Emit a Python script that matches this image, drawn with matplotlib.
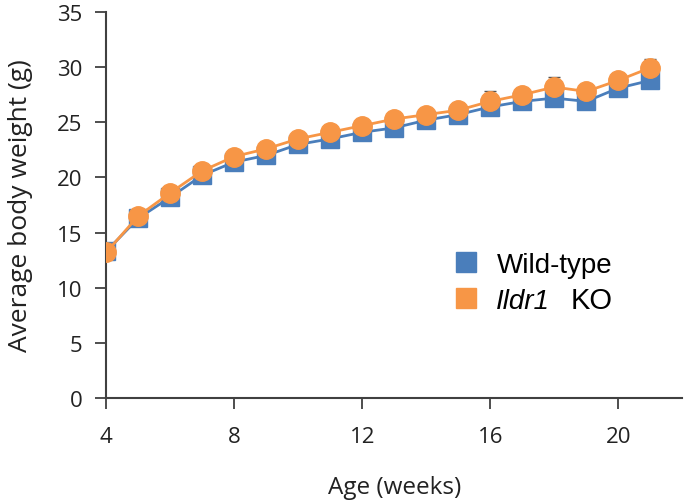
import numpy as np
import matplotlib.pyplot as plt
from matplotlib.lines import Line2D

weeks = [4, 5, 6, 7, 8, 9, 10, 11, 12, 13, 14, 15, 16, 17, 18, 19, 20, 21]
wild_type = [13.3, 16.3, 18.2, 20.2, 21.4, 22.0, 23.0, 23.5, 24.1, 24.5, 25.2,
             25.7, 26.4, 26.9, 27.2, 26.9, 28.1, 28.8]
ko = [13.2, 16.5, 18.6, 20.6, 21.9, 22.6, 23.5, 24.1, 24.7, 25.3, 25.7,
      26.1, 26.9, 27.5, 28.2, 27.8, 28.8, 29.95]
ko_err = [0.3, 0.3, 0.3, 0.3, 0.3, 0.3, 0.3, 0.3, 0.3, 0.3, 0.4,
          0.4, 0.9, 0.5, 0.9, 0.5, 0.6, 0.8]

blue = "#4a7ebb"
orange = "#f79646"

plt.rcParams["font.family"] = ["Open Sans", "DejaVu Sans"]

fig = plt.figure(figsize=(6.85, 5.02), dpi=100)
ax = fig.add_axes([0.155, 0.205, 0.841, 0.769])

ax.plot(weeks, wild_type, color=blue, lw=2, marker="s", ms=12.5,
        mec=blue, mfc=blue, zorder=3)
ax.errorbar(weeks, ko, yerr=[np.zeros(len(ko)), ko_err], fmt="none",
            ecolor="#555555", elinewidth=1, capsize=4, zorder=2)
ax.plot(weeks, ko, color=orange, lw=2, marker="o", ms=14,
        mec=orange, mfc=orange, zorder=4)

ax.set_xlim(4, 22)
ax.set_ylim(0, 35)
ax.set_xticks([4, 8, 12, 16, 20])
ax.set_yticks(range(0, 36, 5))
for s in ["top", "right"]:
    ax.spines[s].set_visible(False)
for s in ["left", "bottom"]:
    ax.spines[s].set_color("#404040")
    ax.spines[s].set_linewidth(1.5)
ax.tick_params(direction="out", length=8, width=1.3, color="#404040",
               labelsize=16, labelcolor="#222222")
ax.tick_params(axis="x", pad=12)
ax.tick_params(axis="y", pad=9)

ax.set_xlabel("Age (weeks)", fontsize=17.5, labelpad=20, color="#222222")
ax.set_ylabel("Average body weight (g)", fontsize=19, labelpad=17, color="#222222")

handles = [
    Line2D([], [], ls="none", marker="s", ms=15, color=blue),
    Line2D([], [], ls="none", marker="s", ms=15, color=orange),
]
labels = ["Wild-type", "Ildr1"]
leg = ax.legend(handles, labels, loc="center left", bbox_to_anchor=(0.552, 0.298),
                frameon=False, handletextpad=0.5, labelspacing=0.35,
                handlelength=1.2, prop={"family": "Liberation Sans", "size": 20})
ko_text = leg.get_texts()[1]
ko_text.set_style("italic")

# put the upright "KO" right after the italic gene name
fig.canvas.draw()
bb = ko_text.get_window_extent().transformed(fig.transFigure.inverted())
fig.text(bb.x1 + 20 / 685, bb.y0, "KO", ha="left", va="bottom",
         family="Liberation Sans", fontsize=21)

fig.savefig("out.png", dpi=100)
